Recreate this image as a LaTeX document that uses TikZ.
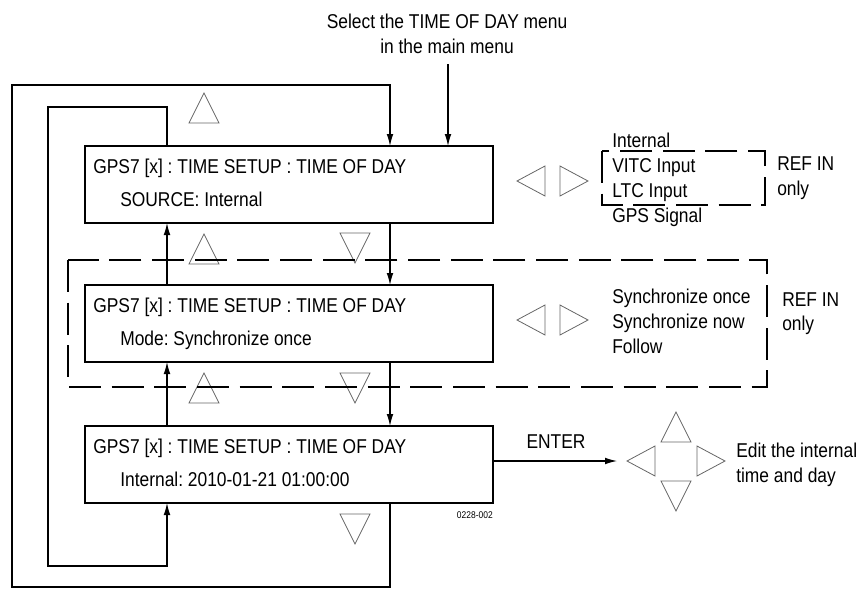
\documentclass[tikz,border=0pt]{standalone}
\usepackage{fontspec}
\setmainfont{Liberation Sans}[FakeStretch=0.87]
\usetikzlibrary{arrows.meta}
\frenchspacing

\tikzset{
  txt/.style={inner sep=0pt,anchor=base west,font=\fontsize{15}{18}\selectfont},
  menubox/.style={draw,line width=1.5pt,anchor=north west,minimum width=306pt,
    minimum height=57.75pt,inner sep=0pt,outer sep=0pt},
  conn/.style={line width=0.8pt,-{Latex[length=9pt,width=5pt]}},
  tri/.style={draw=black!60,line width=0.6pt},
  optbox/.style={line width=0.8pt,dash pattern=on 24pt off 8pt},
  utri/.pic={\draw[tri] (-15,15) -- (15,15) -- (0,-15) -- cycle;},
  dtri/.pic={\draw[tri] (-15,-15) -- (15,-15) -- (0,15) -- cycle;},
  ltri/.pic={\draw[tri] (14,-15) -- (14,15) -- (-14,0) -- cycle;},
  rtri/.pic={\draw[tri] (-14,-15) -- (-14,15) -- (14,0) -- cycle;}
}

\begin{document}
\begin{tikzpicture}[x=0.75pt,y=-0.75pt]

  \useasboundingbox (0,0) rectangle (865,590);

  % the three menu screens
  \foreach \n/\y/\s in {1/146/{SOURCE: Internal},
                        2/285/{Mode: Synchronize once},
                        3/426/{Internal: 2010-01-21 01:00:00}} {
    \node[menubox] (box\n) at (85,\y) {};
    \node[txt] (head\n) at ([shift={(8,27)}]box\n.north west)
      {GPS7 [x] : TIME SETUP : TIME OF DAY};
    \node[txt] (val\n) at ([shift={(35,60)}]box\n.north west) {\s};
  }

  \coordinate (lx) at (167,0);
  \coordinate (rx) at (390,0);

  % entry from the main menu
  \node[txt,anchor=base] (sel1) at (447,28) {Select the TIME OF DAY menu};
  \node[txt,anchor=base] (sel2) at (447,53) {in the main menu};
  \coordinate (entry) at (448,64);
  \draw[conn] (entry) -- (box1.north -| entry);

  % up / down between the screens
  \draw[conn] (box2.north -| lx) -- (box1.south -| lx);
  \draw[conn] (box3.north -| lx) -- (box2.south -| lx);
  \draw[conn] (box1.south -| rx) -- (box2.north -| rx);
  \draw[conn] (box2.south -| rx) -- (box3.north -| rx);

  % wrap around loops
  \coordinate (oa) at (12,587);
  \coordinate (ob) at (12,85);
  \draw[conn] (box3.south -| rx) |- (oa) -- (ob) -| (box1.north -| rx);

  \coordinate (ia) at (48,107);
  \coordinate (ib) at (48,566);
  \draw[conn] (box1.north -| lx) |- (ia) -- (ib) -| (box3.south -| lx);

  % key triangles
  \foreach \x/\y in {204/108, 204/249, 204/388, 676/427}
    \pic at (\x,\y) {utri};
  \foreach \x/\y in {355/248, 355/388, 355/529, 676/496}
    \pic at (\x,\y) {dtri};
  \foreach \x/\y in {531/181, 531/320, 641/461}
    \pic at (\x,\y) {ltri};
  \foreach \x/\y in {574/181, 574/320, 711/461}
    \pic at (\x,\y) {rtri};

  % source choices
  \foreach \t [count=\i] in {Internal, VITC Input, LTC Input, GPS Signal}
    \node[txt] (src\i) at (612,122+25*\i) {\t};
  \draw[optbox] (602,151) rectangle (765,205);
  \node[txt] (refa1) at (777,170) {REF IN};
  \node[txt] (refa2) at (777,195) {only};

  % mode choices
  \foreach \t [count=\i] in {Synchronize once, Synchronize now, Follow}
    \node[txt] (mode\i) at (612,278+25*\i) {\t};
  \draw[optbox] (68,260) rectangle (767,387);
  \node[txt] (refb1) at (782,306) {REF IN};
  \node[txt] (refb2) at (782,330) {only};

  % editing the time
  \coordinate (edit) at (617,461);
  \draw[conn] (box3.east |- edit) -- (edit);
  \node[txt,anchor=base] (enter) at (556,448) {ENTER};
  \node[txt] (edit1) at (736,457) {Edit the internal};
  \node[txt] (edit2) at (736,482) {time and day};

  \node[txt,anchor=base east,font=\fontsize{7.3}{9}\selectfont] (code)
    at (493,518) {0228-002};

\end{tikzpicture}
\end{document}
